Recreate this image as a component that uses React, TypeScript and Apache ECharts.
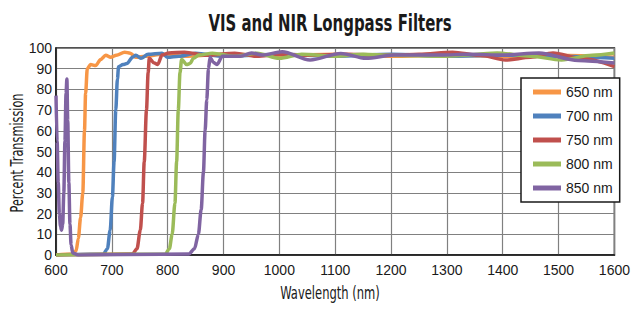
import React, { useEffect, useRef } from "react";
import * as echarts from "echarts";

const title = "VIS and NIR Longpass Filters";
const xName = "Wavelength (nm)";
const yName = "Percent Transmission";
const seriesNames = ["650 nm", "700 nm", "750 nm", "800 nm", "850 nm"];
const colors = ["#F79646", "#4F81BD", "#C0504D", "#9BBB59", "#8064A2"];

const lp650: number[][] = [
  [600, 0], [630, 0.5], [636, 2], [640, 8], [644, 18], [648, 30], [651, 60], [653, 78], [656, 90],
  [662, 92], [671, 91.5], [680, 94.5], [689, 96.5], [698, 95.5], [708, 96.5], [723, 98], [733, 97.5],
  [743, 95.5], [760, 96], [790, 97], [830, 96], [900, 97], [1000, 96.5], [1100, 97], [1200, 96],
  [1300, 96.5], [1400, 96], [1500, 96.5], [1600, 95.5],
];
const lp700: number[][] = [
  [600, 0], [685, 0.5], [692, 3], [697, 12], [701, 28], [704, 45], [707, 70], [710, 85], [712, 91],
  [720, 92], [727, 92.5], [737, 95.5], [743, 96.5], [752, 95], [765, 97], [790, 97.5], [800, 95.5],
  [820, 96], [850, 97.5], [900, 96], [1000, 97], [1100, 96], [1200, 97], [1300, 96], [1400, 96.5],
  [1500, 96], [1600, 95],
];
const lp750: number[][] = [
  [600, 0], [737, 0.5], [745, 3], [751, 12], [755, 25], [758, 45], [762, 70], [765, 88], [767, 95],
  [776, 92.7], [782, 92], [790, 96.6], [802, 97.6], [830, 98], [870, 96.5], [920, 97.5], [960, 96],
  [1000, 97], [1060, 96.5], [1120, 97], [1200, 96.5], [1250, 97], [1310, 98], [1360, 96.5],
  [1405, 94.2], [1450, 95.5], [1490, 97.6], [1540, 95], [1600, 91],
];
const lp800: number[][] = [
  [600, 0], [796, 0.5], [803, 3], [808, 10], [813, 25], [816, 45], [819, 70], [822, 88], [825, 94.5],
  [834, 92], [840, 92.5], [846, 95], [856, 96.6], [880, 97.5], [920, 96], [960, 97.5], [1000, 95],
  [1040, 97], [1100, 96], [1150, 97], [1200, 96.5], [1300, 96], [1390, 97.6], [1450, 96],
  [1505, 94.2], [1560, 96.5], [1600, 97.6],
];
const lp850: number[][] = [
  [600, 77], [602, 55], [604, 35], [606, 20], [608, 14], [610, 12], [612, 15], [614, 30], [616, 55],
  [618, 78], [619.5, 85], [621, 65], [623, 35], [625, 15], [627, 5], [630, 1], [640, 0], [838, 0.5],
  [848, 3], [855, 10], [860, 22], [864, 40], [867, 60], [870, 75], [873, 90], [876, 95.5], [882, 93],
  [888, 92], [898, 96], [930, 96], [950, 97.6], [970, 96.6], [1005, 98.2], [1055, 94.2], [1110, 97.4],
  [1155, 95], [1205, 96.6], [1290, 96.6], [1340, 97], [1400, 96.6], [1465, 97.6], [1535, 94],
  [1600, 92.7],
];
const seriesData = [lp650, lp700, lp750, lp800, lp850];

const FONT = "'Liberation Sans', Arial, sans-serif";
const WIDE = "'DejaVu Sans', sans-serif";
const INK = "#1a1a1a";

export default function App() {
  const ref = useRef<HTMLDivElement>(null);
  useEffect(() => {
    if (!ref.current) return;
    const chart = echarts.init(ref.current, undefined, { renderer: "svg" });
    chart.setOption({
      animation: false,
      backgroundColor: "#ffffff",
      graphic: [
        {
          type: "text",
          x: 322,
          y: 15,
          scaleX: 0.65,
          style: {
            text: title,
            fontFamily: WIDE,
            fontSize: 23,
            fontWeight: "bold",
            fill: INK,
            align: "center",
            verticalAlign: "middle",
          },
        },
        {
          type: "text",
          x: 322,
          y: 285,
          scaleX: 0.68,
          style: {
            text: xName,
            fontFamily: WIDE,
            fontSize: 17,
            fill: INK,
            align: "center",
            verticalAlign: "middle",
          },
        },
        {
          type: "text",
          x: 9,
          y: 145,
          rotation: Math.PI / 2,
          scaleX: 0.665,
          style: {
            text: yName,
            fontFamily: WIDE,
            fontSize: 17,
            fill: INK,
            align: "center",
            verticalAlign: "middle",
          },
        },
      ],
      grid: {
        left: 48,
        right: 4,
        top: 40,
        bottom: 49,
        show: true,
        borderColor: INK,
        borderWidth: 1.5,
      },
      legend: {
        orient: "vertical",
        left: 513,
        top: 70,
        data: seriesNames,
        icon: "rect",
        itemWidth: 28,
        itemHeight: 5,
        itemGap: 10,
        padding: [7, 7, 7, 12],
        backgroundColor: "#ffffff",
        borderColor: INK,
        borderWidth: 1.5,
        textStyle: { fontFamily: FONT, fontSize: 14, color: INK },
      },
      xAxis: {
        type: "value",
        min: 600,
        max: 1600,
        interval: 100,
        axisLine: { show: true, lineStyle: { color: INK, width: 1.5 } },
        axisTick: { show: false },
        axisLabel: {
          fontFamily: FONT,
          fontSize: 14,
          color: INK,
          margin: 8,
          formatter: (v: number) => String(v),
        },
        splitLine: { show: true, lineStyle: { color: "#808080", width: 1.2 } },
      },
      yAxis: {
        type: "value",
        min: 0,
        max: 100,
        interval: 10,
        axisLine: { show: true, lineStyle: { color: INK, width: 1.5 } },
        axisTick: { show: false },
        axisLabel: { fontFamily: FONT, fontSize: 14, color: INK, margin: 4 },
        splitLine: { show: true, lineStyle: { color: "#808080", width: 1.2 } },
      },
      series: seriesNames.map((name, i) => ({
        name,
        type: "line",
        data: seriesData[i],
        showSymbol: false,
        smooth: 0.3,
        smoothMonotone: "x",
        lineStyle: { color: colors[i], width: 3.5 },
        itemStyle: { color: colors[i] },
      })),
    });
    return () => chart.dispose();
  }, []);
  return <div ref={ref} style={{ width: 625, height: 296 }} />;
}
